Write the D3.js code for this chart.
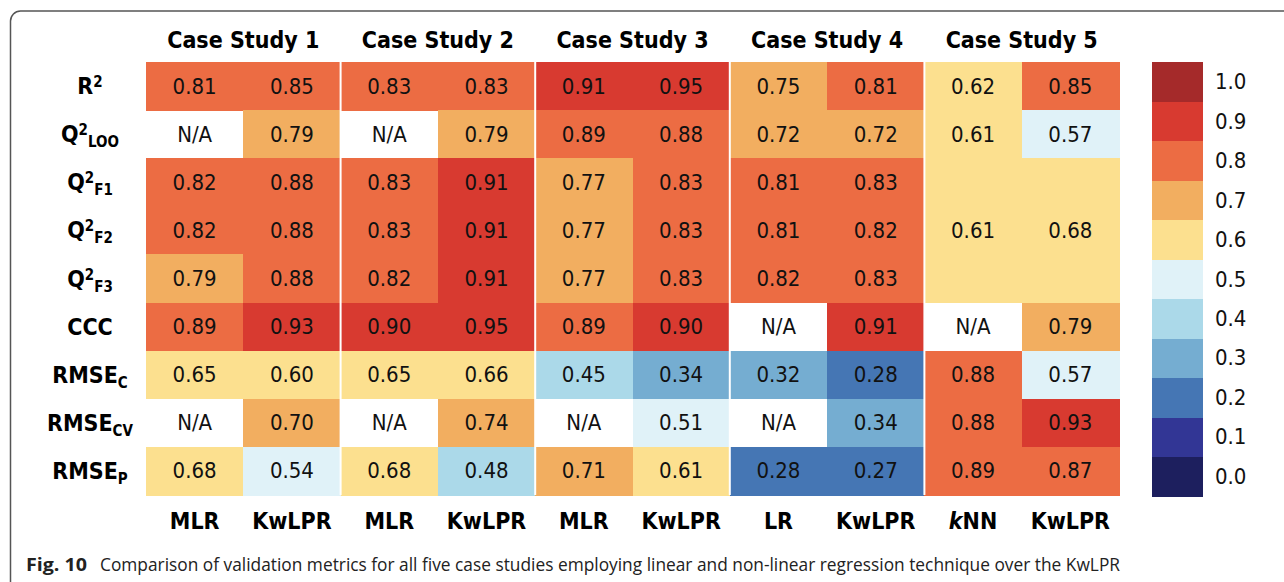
<!DOCTYPE html>
<html>
<head>
<meta charset="utf-8">
<script src="https://cdn.jsdelivr.net/npm/d3@7"></script>
<style>
  html, body { margin: 0; padding: 0; background: #fff; }
  svg { display: block; }
  .tbl { font-family: "DejaVu Sans Condensed", "DejaVu Sans", sans-serif; font-stretch: condensed; }
  .cap { font-family: "Open Sans", "Noto Sans", sans-serif; font-stretch: normal; }
</style>
</head>
<body>
<div id="chart"></div>
<script>
// --- data ---
const caseStudies = ['Case Study 1', 'Case Study 2', 'Case Study 3', 'Case Study 4', 'Case Study 5'];
const methods = ['MLR', 'KwLPR', 'MLR', 'KwLPR', 'MLR', 'KwLPR', 'LR', 'KwLPR', 'kNN', 'KwLPR'];
const metrics = ['R2', 'Q2LOO', 'Q2F1', 'Q2F2', 'Q2F3', 'CCC', 'RMSEC', 'RMSECV', 'RMSEP'];

// null = N/A
const r2     = [0.81, 0.85, 0.83, 0.83, 0.91, 0.95, 0.75, 0.81, 0.62, 0.85];
const q2Loo  = [null, 0.79, null, 0.79, 0.89, 0.88, 0.72, 0.72, 0.61, 0.57];
const q2F1   = [0.82, 0.88, 0.83, 0.91, 0.77, 0.83, 0.81, 0.83, 0.61, 0.68];
const q2F2   = [0.82, 0.88, 0.83, 0.91, 0.77, 0.83, 0.81, 0.82, 0.61, 0.68];
const q2F3   = [0.79, 0.88, 0.82, 0.91, 0.77, 0.83, 0.82, 0.83, 0.61, 0.68];
const ccc    = [0.89, 0.93, 0.90, 0.95, 0.89, 0.90, null, 0.91, null, 0.79];
const rmseC  = [0.65, 0.60, 0.65, 0.66, 0.45, 0.34, 0.32, 0.28, 0.88, 0.57];
const rmseCV = [null, 0.70, null, 0.74, null, 0.51, null, 0.34, 0.88, 0.93];
const rmseP  = [0.68, 0.54, 0.68, 0.48, 0.71, 0.61, 0.28, 0.27, 0.89, 0.87];
const rowValues = [r2, q2Loo, q2F1, q2F2, q2F3, ccc, rmseC, rmseCV, rmseP];

// Case Study 5: Q2F1..Q2F3 share one cell per column
const mergedSpans = [{ col: 8, from: 2, to: 4 }, { col: 9, from: 2, to: 4 }];

const legendTicks = ['0.0', '0.1', '0.2', '0.3', '0.4', '0.5', '0.6', '0.7', '0.8', '0.9', '1.0'];
const legendColors = ['#1d1f5e', '#323695', '#4576b4', '#75add1', '#abd9e9', '#e0f2f8',
                      '#fce08f', '#f2ae60', '#ec6c43', '#d83a30', '#a52a2a'];
const thresholds = [0.1, 0.2, 0.3, 0.4, 0.5, 0.6, 0.7, 0.8, 0.9, 1.0];

const caption = 'Comparison of validation metrics for all five case studies employing linear and non-linear regression technique over the KwLPR';

// --- layout ---
const W = 1284, H = 582;
const svg = d3.select('#chart').append('svg')
  .attr('width', W).attr('height', H)
  .attr('class', 'tbl');

// outer frame (top + left border with rounded corner)
svg.append('path')
  .attr('d', 'M10.5,582 V21 A10,10 0 0 1 20.5,11 H1284')
  .attr('fill', 'none')
  .attr('stroke', '#555')
  .attr('stroke-width', 1.5);

const x = d3.scaleBand().domain(d3.range(methods.length)).range([146, 1119]);
const y = d3.scaleBand().domain(d3.range(metrics.length)).range([62, 495]);
const color = d3.scaleThreshold().domain(thresholds).range(legendColors);

const isMerged = (c, r) => mergedSpans.some(s => s.col === c && r >= s.from && r <= s.to);

const cells = [];
rowValues.forEach((row, r) => row.forEach((v, c) => {
  if (!isMerged(c, r)) cells.push({ r, c, v });
}));
mergedSpans.forEach(s => {
  cells.push({ r: s.from, c: s.col, v: rowValues[Math.round((s.from + s.to) / 2)][s.col], span: s.to - s.from + 1 });
});

const g = svg.append('g');
g.selectAll('rect.cell')
  .data(cells.filter(d => d.v !== null))
  .join('rect')
  .attr('class', 'cell')
  .attr('x', d => x(d.c))
  .attr('y', d => y(d.r))
  .attr('width', x.bandwidth() + 0.5)
  .attr('height', d => y.bandwidth() * (d.span || 1) + 0.5)
  .attr('fill', d => color(d.v))
  .attr('shape-rendering', 'crispEdges');

g.selectAll('text.val')
  .data(cells)
  .join('text')
  .attr('class', 'val')
  .attr('x', d => x(d.c) + x.bandwidth() / 2)
  .attr('y', d => y(d.r) + y.bandwidth() * (d.span || 1) / 2)
  .attr('text-anchor', 'middle')
  .attr('dominant-baseline', 'central')
  .style('font-size', '22px')
  .style('fill', '#111')
  .text(d => d.v === null ? 'N/A' : d.v.toFixed(2));

// white separators between case studies
[2, 4, 6, 8].forEach(c => {
  svg.append('line')
    .attr('x1', x(c)).attr('x2', x(c))
    .attr('y1', y.range()[0]).attr('y2', y.range()[1])
    .attr('stroke', '#fff')
    .attr('stroke-width', 2);
});

// case study headers
svg.selectAll('text.head')
  .data(caseStudies)
  .join('text')
  .attr('class', 'head')
  .attr('x', (d, i) => x(i * 2 + 1))
  .attr('y', 40)
  .attr('text-anchor', 'middle')
  .attr('dominant-baseline', 'central')
  .style('font-size', '23px')
  .style('font-weight', 'bold')
  .text(d => d);

// method labels under the table
svg.selectAll('text.method')
  .data(methods)
  .join('text')
  .attr('class', 'method')
  .attr('x', (d, i) => x(i) + x.bandwidth() / 2)
  .attr('y', 521)
  .attr('text-anchor', 'middle')
  .attr('dominant-baseline', 'central')
  .style('font-size', '23px')
  .style('font-weight', 'bold')
  .each(function(d) {
    const t = d3.select(this);
    if (d === 'kNN') {
      t.append('tspan').style('font-style', 'italic').text('k');
      t.append('tspan').text('NN');
    } else {
      t.text(d);
    }
  });

// metric labels: [main, superscript, subscript]
const metricParts = {
  R2: ['R', '2', ''], Q2LOO: ['Q', '2', 'LOO'], Q2F1: ['Q', '2', 'F1'],
  Q2F2: ['Q', '2', 'F2'], Q2F3: ['Q', '2', 'F3'], CCC: ['CCC', '', ''],
  RMSEC: ['RMSE', '', 'C'], RMSECV: ['RMSE', '', 'CV'], RMSEP: ['RMSE', '', 'P']
};
svg.selectAll('text.metric')
  .data(metrics)
  .join('text')
  .attr('class', 'metric')
  .attr('x', 90)
  .attr('y', (d, i) => y(i) + y.bandwidth() / 2 + 8)
  .attr('text-anchor', 'middle')
  .style('font-size', '23px')
  .style('font-weight', 'bold')
  .each(function(d) {
    const [main, sup, sub] = metricParts[d];
    const t = d3.select(this);
    t.append('tspan').text(main);
    let shift = 0;
    if (sup) {
      t.append('tspan').attr('dy', -7).style('font-size', '15px').text(sup);
      shift = -7;
    }
    if (sub) {
      t.append('tspan').attr('dy', 5 - shift).style('font-size', '15px').text(sub);
    }
  });

// colour legend
const ly = d3.scaleBand().domain(legendTicks.slice().reverse()).range([62, 496]);
const legend = svg.append('g');
legend.selectAll('rect')
  .data(legendTicks)
  .join('rect')
  .attr('x', 1152)
  .attr('y', d => ly(d))
  .attr('width', 51)
  .attr('height', ly.bandwidth() + 0.5)
  .attr('fill', (d, i) => legendColors[i])
  .attr('shape-rendering', 'crispEdges');
legend.selectAll('text')
  .data(legendTicks)
  .join('text')
  .attr('x', 1215)
  .attr('y', d => ly(d) + ly.bandwidth() / 2)
  .attr('dominant-baseline', 'central')
  .style('font-size', '22px')
  .style('fill', '#111')
  .text(d => d);

// caption
svg.append('text')
  .attr('class', 'cap')
  .attr('x', 26)
  .attr('y', 571)
  .attr('textLength', 61)
  .attr('lengthAdjust', 'spacingAndGlyphs')
  .style('font-size', '18px')
  .style('font-weight', 'bold')
  .style('fill', '#222')
  .text('Fig. 10');
svg.append('text')
  .attr('class', 'cap')
  .attr('x', 100)
  .attr('y', 571)
  .attr('textLength', 1020)
  .attr('lengthAdjust', 'spacingAndGlyphs')
  .style('font-size', '18px')
  .style('fill', '#222')
  .text(caption);
</script>
</body>
</html>
